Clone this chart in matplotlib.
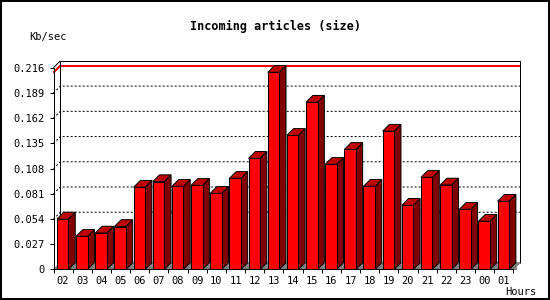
"""Incoming articles (size) per hour, innreport-style 3D bar chart."""
import matplotlib
matplotlib.use("Agg")
import matplotlib.pyplot as plt
import numpy as np
from matplotlib.patches import Polygon

HOURS = ["02", "03", "04", "05", "06", "07", "08", "09", "10", "11", "12", "13",
         "14", "15", "16", "17", "18", "19", "20", "21", "22", "23", "00", "01"]
KBSEC = [0.054, 0.0355, 0.039, 0.046, 0.088, 0.094, 0.089, 0.090, 0.0815,
         0.0975, 0.119, 0.211, 0.1435, 0.179, 0.1125, 0.1285, 0.089, 0.148,
         0.0687, 0.0986, 0.0904, 0.0644, 0.0516, 0.073]
YTICKS = [0, 0.027, 0.054, 0.081, 0.108, 0.135, 0.162, 0.189, 0.216]
YLABELS = ["0", "0.027", "0.054", "0.081", "0.108", "0.135", "0.162",
           "0.189", "0.216"]

FRONT, SIDE, TOP, FLOOR = "#ff0000", "#800000", "#c00000", "#808080"
DEPTH = 6.8          # px of fake depth
PX = 0.72            # one pixel in points at dpi 100
MONO = "DejaVu Sans Mono"

fig = plt.figure(figsize=(5.5, 3.0), dpi=100, facecolor="white",
                 edgecolor="black", linewidth=1.5)
ax = fig.add_axes([0.0973, 0.1017, 0.836, 0.6727])
n = len(HOURS)
ymax = YTICKS[-1]
ax.set_xlim(0, n)
ax.set_ylim(0, ymax)

# depth offset in data units
p0 = ax.transData.transform((0, 0))
dx, dy = ax.transData.inverted().transform(p0 + DEPTH)

def poly(pts, fc, ec="black", z=2, lw=PX):
    ax.add_patch(Polygon(pts, closed=True, facecolor=fc, edgecolor=ec,
                         linewidth=lw, zorder=z, clip_on=False))

def line(xs, ys, **kw):
    ax.plot(xs, ys, clip_on=False, solid_capstyle="butt", **kw)

# floor and back frame
poly([(0, 0), (n, 0), (n + dx, dy), (dx, dy)], FLOOR, ec=FLOOR, z=0.5)
for v in YTICKS[2:-1]:
    line([0, dx, n + dx], [v, v + dy, v + dy], color="black", lw=PX,
         ls=(0, (2, 2)), zorder=0.8)
top = max(KBSEC)
line([0, dx, n + dx], [top, top + dy, top + dy], color="red", lw=PX,
     antialiased=False, zorder=0.9)
line([dx, dx, n + dx, n + dx], [dy, ymax + dy, ymax + dy, dy],
     color="black", lw=PX, zorder=1)
line([0, dx], [ymax, ymax + dy], color="black", lw=PX, zorder=1)

# bars
x = np.arange(n) + 0.18
w = 0.6
ax.bar(x, KBSEC, width=w, align="edge", color=FRONT, edgecolor="black",
       linewidth=PX, zorder=3)
for xl, v in zip(x, KBSEC):
    xr = xl + w
    poly([(xr, 0), (xr + dx, 0), (xr + dx, dy)], FLOOR, ec=FLOOR, z=2)
    poly([(xr, 0), (xr, v), (xr + dx, v + dy), (xr + dx, dy)], SIDE)
    poly([(xl, v), (xr, v), (xr + dx, v + dy), (xl + dx, v + dy)], TOP)

# axes
for s in ("top", "right"):
    ax.spines[s].set_visible(False)
for s in ("left", "bottom"):
    ax.spines[s].set_linewidth(PX)
    ax.spines[s].set_zorder(4)
ax.set_facecolor("none")
ax.set_yticks(YTICKS)
ax.set_yticklabels(YLABELS, family=MONO, fontsize=7.5)
ax.set_xticks(np.arange(n + 1))
ax.set_xticklabels([])
ax.set_xticks(np.arange(n) + 0.5, minor=True)
ax.set_xticklabels(HOURS, minor=True, family=MONO, fontsize=7.5)
ax.tick_params(axis="both", which="major", length=3, width=PX, pad=3.5)
ax.tick_params(axis="x", which="minor", length=0, pad=5)

fig.text(0.5, 0.911, "Incoming articles (size)", ha="center", va="center",
         family=MONO, fontweight="bold", fontsize=8.5)
fig.text(0.053, 0.878, "Kb/sec", ha="left", va="center", family=MONO,
         fontsize=7.5)
fig.text(0.918, 0.028, "Hours", ha="left", va="center", family=MONO,
         fontsize=7.5)

fig.savefig("out.png", dpi=100)
